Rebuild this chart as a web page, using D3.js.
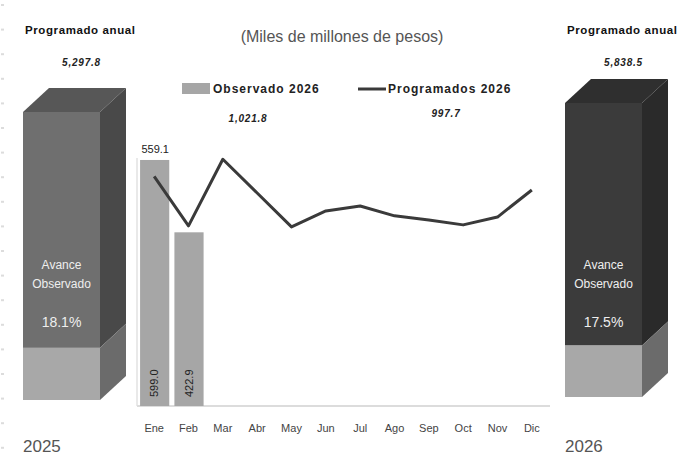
<!DOCTYPE html>
<html>
<head>
<meta charset="utf-8">
<script src="https://cdn.jsdelivr.net/npm/d3@7"></script>
<style>
  body { margin: 0; background: #fff; }
  #chart { width: 688px; height: 458px; }
  text { font-family: "Liberation Sans", Arial, sans-serif; }
</style>
</head>
<body>
<div id="chart"></div>
<script>
// data
const months = ["Ene", "Feb", "Mar", "Abr", "May", "Jun", "Jul", "Ago", "Sep", "Oct", "Nov", "Dic"];
const observado = [599.0, 422.9];
const programado = [559.1, 438.6, 600.7, 518.6, 436.0, 475.0, 487.0, 463.0, 453.0, 441.0, 460.0, 526.0];
const totals = { observado: "1,021.8", programado: "997.7" };

const years = ["2025", "2026"];
const anual = ["5,297.8", "5,838.5"];
const avance = [0.181, 0.175];

const width = 688, height = 458;

const svg = d3.select("#chart").append("svg")
    .attr("width", width)
    .attr("height", height);

// faint dots on the left edge
svg.selectAll("rect.dot")
    .data(d3.range(4, 450, 24.6))
    .enter().append("rect")
    .attr("class", "dot")
    .attr("x", 1).attr("y", d => d)
    .attr("width", 3).attr("height", 2)
    .attr("fill", "#dcdcdc");

// ---- 3D boxes on each side ----
const boxes = [
    { x: 23, w: 77, top: 112, bottom: 400, front: "#6f6f6f", topc: "#575757", side: "#494949" },
    { x: 565, w: 77, top: 103, bottom: 397, front: "#3b3b3b", topc: "#2f2f2f", side: "#2a2a2a" }
];
const dx = 26, dy = 24;

boxes.forEach((b, i) => {
    const g = svg.append("g");
    const fy = d3.scaleLinear().domain([0, 1]).range([b.bottom, b.top]);
    const split = fy(avance[i]);
    const x0 = b.x, x1 = b.x + b.w;

    // top face
    g.append("path")
        .attr("d", `M${x0},${b.top}L${x0 + dx},${b.top - dy}L${x1 + dx},${b.top - dy}L${x1},${b.top}Z`)
        .attr("fill", b.topc);
    // side upper
    g.append("path")
        .attr("d", `M${x1},${b.top}L${x1 + dx},${b.top - dy}L${x1 + dx},${split - dy}L${x1},${split}Z`)
        .attr("fill", b.side);
    // side lower
    g.append("path")
        .attr("d", `M${x1},${split}L${x1 + dx},${split - dy}L${x1 + dx},${b.bottom - dy}L${x1},${b.bottom}Z`)
        .attr("fill", "#6b6b6b");
    // front upper
    g.append("rect")
        .attr("x", x0).attr("y", b.top)
        .attr("width", b.w).attr("height", split - b.top)
        .attr("fill", b.front);
    // front lower (observed share)
    g.append("rect")
        .attr("x", x0).attr("y", split)
        .attr("width", b.w).attr("height", b.bottom - split)
        .attr("fill", "#a8a8a8");

    const cx = x0 + b.w / 2;
    g.append("text").attr("x", cx).attr("y", 269)
        .attr("text-anchor", "middle").attr("font-size", 12).attr("fill", "#eee")
        .text("Avance");
    g.append("text").attr("x", cx).attr("y", 288)
        .attr("text-anchor", "middle").attr("font-size", 12).attr("fill", "#eee")
        .text("Observado");
    g.append("text").attr("x", cx).attr("y", 327)
        .attr("text-anchor", "middle").attr("font-size", 14).attr("fill", "#eee")
        .text((avance[i] * 100).toFixed(1) + "%");

    // header
    svg.append("text").attr("x", x0 + 2).attr("y", 34)
        .attr("font-size", 11.5).attr("font-weight", "bold").attr("fill", "#111")
        .attr("letter-spacing", 0.6)
        .text("Programado anual");
    svg.append("text").attr("x", cx + 20).attr("y", 66)
        .attr("text-anchor", "middle")
        .attr("font-family", "Liberation Serif, serif")
        .attr("font-style", "italic").attr("font-weight", "bold")
        .attr("font-size", 10).attr("fill", "#222").attr("letter-spacing", 0.8)
        .text(anual[i]);

    // year
    svg.append("text").attr("x", x0).attr("y", 452)
        .attr("font-size", 17).attr("fill", "#555")
        .text(years[i]);
});

// ---- monthly chart ----
const x = d3.scaleBand()
    .domain(months)
    .range([137, 549]);

const y = d3.scaleLinear()
    .domain([0, 700])
    .range([406, 118.5]);

const chart = svg.append("g");

// axes lines
chart.append("line")
    .attr("x1", 137).attr("x2", 137)
    .attr("y1", 158).attr("y2", y(0))
    .attr("stroke", "#e2e2e2").attr("stroke-width", 1.5);

chart.append("line")
    .attr("x1", 137).attr("x2", 550)
    .attr("y1", y(0)).attr("y2", y(0))
    .attr("stroke", "#dcdcdc").attr("stroke-width", 2);

const xAxis = d3.axisBottom(x).tickSize(0).tickPadding(0);
chart.append("g")
    .attr("transform", `translate(0,${y(0) + 18})`)
    .call(xAxis)
    .call(g => g.select(".domain").remove())
    .selectAll("text")
    .attr("font-family", "Liberation Sans, Arial, sans-serif")
    .attr("font-size", 11)
    .attr("fill", "#444");

// observed bars
const barW = x.bandwidth() * 0.85;
chart.selectAll("rect.bar")
    .data(observado)
    .enter().append("rect")
    .attr("class", "bar")
    .attr("x", (d, i) => x(months[i]) + (x.bandwidth() - barW) / 2 + 0.5)
    .attr("y", d => y(d))
    .attr("width", barW)
    .attr("height", d => y(0) - y(d))
    .attr("fill", "#a6a6a6");

chart.selectAll("text.barlab")
    .data(observado)
    .enter().append("text")
    .attr("class", "barlab")
    .attr("transform", (d, i) => `translate(${x(months[i]) + x.bandwidth() / 2 + 4},${y(0) - 9}) rotate(-90)`)
    .attr("font-size", 11)
    .attr("fill", "#222")
    .text(d => d.toFixed(1));

// programmed line
const line = d3.line()
    .x((d, i) => x(months[i]) + x.bandwidth() / 2)
    .y(d => y(d));

chart.append("path")
    .datum(programado)
    .attr("d", line)
    .attr("fill", "none")
    .attr("stroke", "#3a3a3a")
    .attr("stroke-width", 3)
    .attr("stroke-linejoin", "round");

chart.append("text")
    .attr("x", x(months[0]) + x.bandwidth() / 2 + 1)
    .attr("y", y(observado[0]) - 7)
    .attr("text-anchor", "middle")
    .attr("font-size", 11)
    .attr("fill", "#222")
    .text(programado[0].toFixed(1));

// title
svg.append("text")
    .attr("x", 342).attr("y", 42)
    .attr("text-anchor", "middle")
    .attr("font-size", 16)
    .attr("fill", "#555")
    .text("(Miles de millones de pesos)");

// legend
const legend = svg.append("g");
legend.append("rect")
    .attr("x", 182).attr("y", 83).attr("width", 28).attr("height", 11)
    .attr("fill", "#a6a6a6");
legend.append("text")
    .attr("x", 213).attr("y", 93)
    .attr("font-size", 12).attr("font-weight", "bold").attr("fill", "#222")
    .attr("letter-spacing", 1)
    .text("Observado 2026");
legend.append("line")
    .attr("x1", 358).attr("x2", 386).attr("y1", 89).attr("y2", 89)
    .attr("stroke", "#3a3a3a").attr("stroke-width", 3);
legend.append("text")
    .attr("x", 388).attr("y", 93)
    .attr("font-size", 12).attr("font-weight", "bold").attr("fill", "#222")
    .attr("letter-spacing", 1)
    .text("Programados 2026");

legend.append("text")
    .attr("x", 248).attr("y", 122)
    .attr("text-anchor", "middle")
    .attr("font-family", "Liberation Serif, serif")
    .attr("font-style", "italic").attr("font-weight", "bold")
    .attr("font-size", 10).attr("fill", "#222").attr("letter-spacing", 0.8)
    .text(totals.observado);
legend.append("text")
    .attr("x", 446).attr("y", 117)
    .attr("text-anchor", "middle")
    .attr("font-family", "Liberation Serif, serif")
    .attr("font-style", "italic").attr("font-weight", "bold")
    .attr("font-size", 10).attr("fill", "#222").attr("letter-spacing", 0.8)
    .text(totals.programado);
</script>
</body>
</html>
